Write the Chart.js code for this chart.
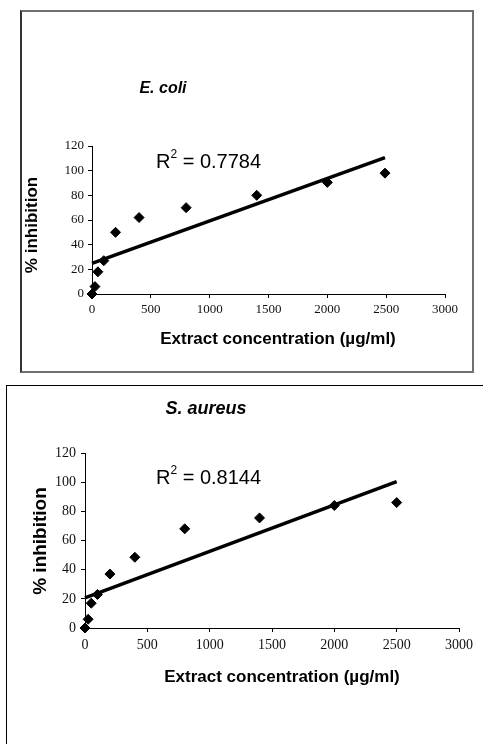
<!DOCTYPE html>
<html>
<head>
<meta charset="utf-8">
<script src="https://cdn.jsdelivr.net/npm/chart.js@4.4.1/dist/chart.umd.min.js"></script>
<style>
  html, body { margin: 0; padding: 0; background: #fff; }
  body { position: relative; width: 483px; height: 744px; overflow: hidden; }
  .box1 { position: absolute; left: 20px; top: 10px; width: 450px; height: 359px;
          border: 2px solid #707070; border-left-color: #333; }
  .box2 { position: absolute; left: 6px; top: 385px; width: 600px; height: 500px;
          border-left: 1px solid #000; border-top: 1px solid #000; }
  canvas { position: absolute; left: 0; }
  #ecoliChart { top: 0; }
  #aureusChart { top: 380px; }
</style>
</head>
<body>
<div class="box1"></div>
<div class="box2"></div>
<canvas id="ecoliChart" width="483" height="380"></canvas>
<canvas id="aureusChart" width="483" height="364"></canvas>
<script>
// valores
const concRange = [0, 3000];
const concStep = 500;
const inhibRange = [0, 120];
const inhibStep = 20;

// E. coli
const ecoliConc = [0, 25, 50, 100, 200, 400, 800, 1400, 2000, 2490];
const ecoliInhib = [0, 6, 18, 27, 50, 62, 70, 80, 90.5, 98];
const ecoliTrendConc = [0, 2490];
const ecoliTrendInhib = [24.8, 110.5];

// S. aureus
const aureusConc = [0, 25, 50, 100, 200, 400, 800, 1400, 2000, 2500];
const aureusInhib = [0, 6, 17, 23, 37, 48.5, 68, 75.5, 84, 86];
const aureusTrendConc = [0, 2500];
const aureusTrendInhib = [20.6, 100.4];

const sans = '"Liberation Sans", Arial, sans-serif';
const serif = '"Liberation Serif", "Times New Roman", serif';

function toPoints(xs, ys) {
    return xs.map((x, i) => ({ x: x, y: ys[i] }));
}

// textos desenhados por cima do gráfico
const textPlugin = {
    id: 'textos',
    afterDraw(chart, args, opts) {
        const ctx = chart.ctx;
        ctx.save();
        ctx.fillStyle = '#000';
        ctx.textBaseline = 'alphabetic';
        (opts.items || []).forEach(t => {
            ctx.font = t.font;
            ctx.save();
            ctx.translate(t.x, t.y);
            if (t.rotate) ctx.rotate(-Math.PI / 2);
            ctx.textAlign = t.align || 'left';
            ctx.fillText(t.text, 0, 0);
            ctx.restore();
        });
        // R² com expoente
        const r = opts.r2;
        if (r) {
            ctx.textAlign = 'left';
            ctx.font = r.size + 'px ' + sans;
            ctx.fillText('R', r.x, r.y);
            let x = r.x + ctx.measureText('R').width;
            ctx.font = Math.round(r.size * 0.6) + 'px ' + sans;
            ctx.fillText('2', x, r.y - r.size * 0.5);
            x += ctx.measureText('2').width;
            ctx.font = r.size + 'px ' + sans;
            ctx.fillText(' = ' + r.value, x, r.y);
        }
        ctx.restore();
    }
};

function makeChart(id, pts, trend, area, tickSize, texts, r2) {
    const canvas = document.getElementById(id);
    const H = canvas.height, W = canvas.width;
    const xAxisH = 30;
    return new Chart(canvas.getContext('2d'), {
        type: 'scatter',
        data: {
            datasets: [{
                type: 'line',
                data: trend,
                borderColor: '#000',
                borderWidth: 3.5,
                pointRadius: 0,
                fill: false,
                clip: false,
                order: 2
            }, {
                data: pts,
                pointStyle: 'rectRot',
                pointRadius: 5,
                pointBorderWidth: 1,
                backgroundColor: '#000',
                borderColor: '#000',
                clip: false,
                order: 1
            }]
        },
        options: {
            responsive: false,
            animation: false,
            events: [],
            layout: {
                padding: {
                    left: 0,
                    right: W - area.right,
                    top: area.top,
                    bottom: H - area.bottom - xAxisH
                }
            },
            plugins: {
                legend: { display: false },
                tooltip: { enabled: false },
                textos: { items: texts, r2: r2 }
            },
            scales: {
                x: {
                    type: 'linear',
                    min: concRange[0], max: concRange[1],
                    ticks: { stepSize: concStep, color: '#111', padding: tickSize.xPad,
                             callback: v => String(v),
                             font: { family: serif, size: tickSize.size } },
                    grid: { display: true, drawOnChartArea: false, drawTicks: true,
                            tickLength: 4, color: '#000', lineWidth: 1 },
                    border: { display: true, color: '#000', width: 1 },
                    afterFit(s) { s.height = xAxisH; }
                },
                y: {
                    type: 'linear',
                    min: inhibRange[0], max: inhibRange[1],
                    ticks: { stepSize: inhibStep, color: '#111', padding: tickSize.yPad,
                             callback: v => String(v),
                             font: { family: serif, size: tickSize.size } },
                    grid: { display: true, drawOnChartArea: false, drawTicks: true,
                            tickLength: 4, color: '#000', lineWidth: 1 },
                    border: { display: true, color: '#000', width: 1 },
                    afterFit(s) { s.width = area.left; }
                }
            }
        },
        plugins: [textPlugin]
    });
}

const ecoliChart = makeChart('ecoliChart',
    toPoints(ecoliConc, ecoliInhib),
    toPoints(ecoliTrendConc, ecoliTrendInhib),
    { left: 92, right: 445, top: 146, bottom: 294 },
    { size: 13, xPad: 4, yPad: 4 },
    [
        { text: 'E. coli', x: 163, y: 93, align: 'center', font: 'italic bold 16px ' + sans },
        { text: '% inhibition', x: 37, y: 225, align: 'center', rotate: true, font: 'bold 17px ' + sans },
        { text: 'Extract concentration (\u00b5g/ml)', x: 278, y: 344, align: 'center', font: 'bold 17px ' + sans }
    ],
    { x: 156, y: 168, size: 20, value: '0.7784' }
);

const aureusChart = makeChart('aureusChart',
    toPoints(aureusConc, aureusInhib),
    toPoints(aureusTrendConc, aureusTrendInhib),
    { left: 85, right: 459, top: 73, bottom: 248 },
    { size: 14, xPad: 5, yPad: 5 },
    [
        { text: 'S. aureus', x: 206, y: 34, align: 'center', font: 'italic bold 18px ' + sans },
        { text: '% inhibition', x: 46, y: 161, align: 'center', rotate: true, font: 'bold 19px ' + sans },
        { text: 'Extract concentration (\u00b5g/ml)', x: 282, y: 302, align: 'center', font: 'bold 17px ' + sans }
    ],
    { x: 156, y: 104, size: 20, value: '0.8144' }
);
</script>
</body>
</html>
